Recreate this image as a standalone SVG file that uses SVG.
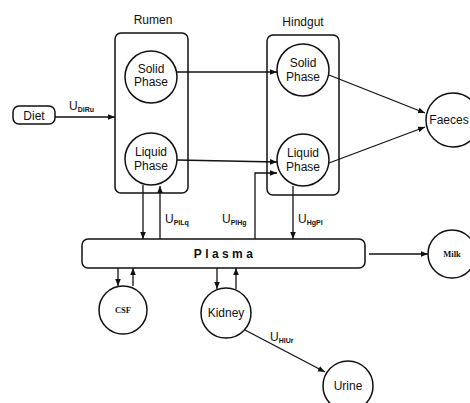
<svg xmlns="http://www.w3.org/2000/svg" width="470" height="403" viewBox="0 0 470 403">
<defs>
<marker id="ah" viewBox="0 0 10 10" refX="10" refY="5" markerWidth="7" markerHeight="7" orient="auto" markerUnits="userSpaceOnUse">
<path d="M0,1 L10,5 L0,9 Z" fill="#111"/>
</marker>
</defs>
<style>
.box{fill:none;stroke:#111;stroke-width:1.5}
.node{fill:#fff;stroke:#111;stroke-width:1.5}
.t{font-family:"Liberation Sans",Arial,sans-serif;font-size:12px;fill:#111;text-anchor:middle}
.s{font-family:"Liberation Serif","Times New Roman",serif;font-size:8.5px;font-weight:bold;fill:#111;text-anchor:middle}
.lab{font-family:"Liberation Sans",Arial,sans-serif;font-size:12px;fill:#111}
.sub{font-size:7px;font-weight:bold}
.c{fill:none;stroke:#111;stroke-width:1.3;marker-end:url(#ah)}
</style>
<rect width="470" height="403" fill="#fff"/>

<g id="rumen">
<rect class="box" x="115" y="33" width="73" height="160" rx="6"/>
<text class="t" x="153" y="24" font-size="10.5">Rumen</text>
</g>
<g id="hindgut">
<rect class="box" x="267" y="35" width="72" height="160" rx="6"/>
<text class="t" x="303" y="26" font-size="10.5">Hindgut</text>
</g>
<g id="rumen-solid">
<circle class="node" cx="151" cy="77" r="26"/>
<text class="t" x="151" y="73">Solid</text>
<text class="t" x="151" y="86">Phase</text>
</g>
<g id="rumen-liquid">
<circle class="node" cx="151" cy="159" r="26"/>
<text class="t" x="151" y="156">Liquid</text>
<text class="t" x="151" y="170">Phase</text>
</g>
<g id="hindgut-solid">
<circle class="node" cx="303" cy="70" r="26"/>
<text class="t" x="303" y="67">Solid</text>
<text class="t" x="303" y="81">Phase</text>
</g>
<g id="hindgut-liquid">
<circle class="node" cx="303" cy="160" r="26"/>
<text class="t" x="303" y="157">Liquid</text>
<text class="t" x="303" y="171">Phase</text>
</g>
<g id="diet">
<rect class="node" x="13" y="106" width="42" height="18" rx="6"/>
<text class="t" x="34" y="119.5">Diet</text>
</g>
<g id="faeces">
<circle class="node" cx="453" cy="120" r="27"/>
<text class="t" x="449" y="124" font-size="11.5">Faeces</text>
</g>
<g id="plasma">
<rect class="node" x="82" y="239" width="283" height="29" rx="6"/>
<text class="t" x="225" y="258" font-size="12" letter-spacing="3.4" font-weight="600">Plasma</text>
</g>
<g id="milk">
<circle class="node" cx="452" cy="254" r="24"/>
<text class="s" x="452" y="257">Milk</text>
</g>
<g id="csf">
<circle class="node" cx="123" cy="310" r="24"/>
<text class="s" x="123" y="313">CSF</text>
</g>
<g id="kidney">
<circle class="node" cx="226" cy="313" r="25"/>
<text class="t" x="226" y="317">Kidney</text>
</g>
<g id="urine">
<circle class="node" cx="348" cy="386" r="25"/>
<text class="t" x="348" y="390">Urine</text>
</g>

<g id="connectors">
<path class="c" d="M55,117 L115,117"/>
<path class="c" d="M177,72 L277,72"/>
<path class="c" d="M177,160 L277,162"/>
<path class="c" d="M329,75 L425,113"/>
<path class="c" d="M329,163 L425,127"/>
<path class="c" d="M255,239 L255,173 L277,173"/>
<path class="c" d="M143,185 L143,239"/>
<path class="c" d="M160,239 L160,186"/>
<path class="c" d="M293,186 L293,239"/>
<path class="c" d="M369,254 L428,254"/>
<path class="c" d="M118,268 L118,286"/>
<path class="c" d="M133,286 L133,268"/>
<path class="c" d="M217,268 L217,289"/>
<path class="c" d="M236,289 L236,268"/>
<path class="c" d="M245,330 L325,372"/>
</g>
<g id="labels">
<text class="lab" x="69" y="110">U<tspan class="sub" dy="2">DiRu</tspan></text>
<text class="lab" x="165" y="223">U<tspan class="sub" dy="2">PlLq</tspan></text>
<text class="lab" x="222" y="223">U<tspan class="sub" dy="2">PlHg</tspan></text>
<text class="lab" x="298" y="223">U<tspan class="sub" dy="2">HgPl</tspan></text>
<text class="lab" x="270" y="341">U<tspan class="sub" dy="2">HlUr</tspan></text>
</g>
</svg>
